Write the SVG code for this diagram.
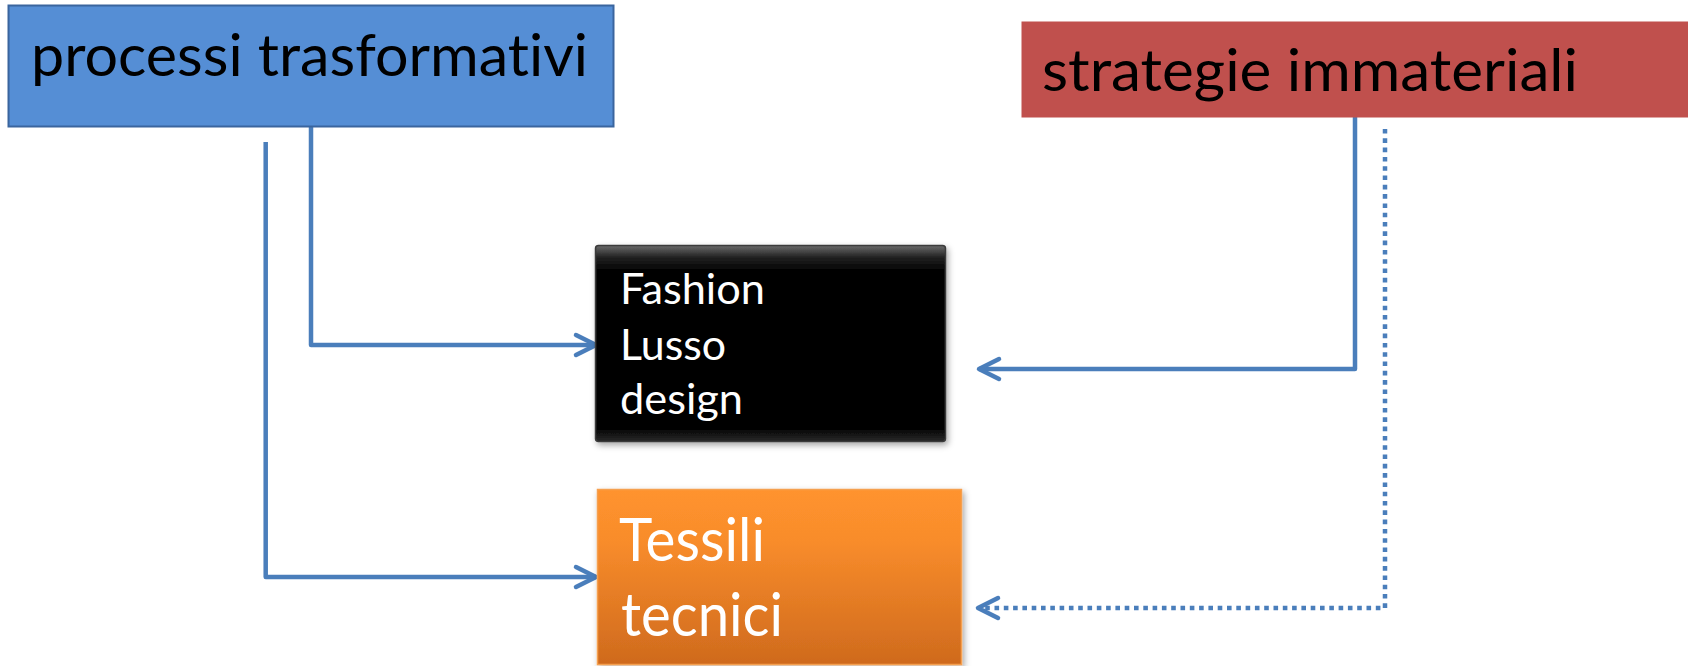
<svg xmlns="http://www.w3.org/2000/svg" width="1688" height="666" viewBox="0 0 1688 666">
<style>
.lbl{font-family:Lato,"Open Sans","Liberation Sans",sans-serif;font-variant-ligatures:none;font-feature-settings:"liga" 0,"clig" 0;}
.conn{fill:none;stroke:#4A7EBB;stroke-width:4.5;stroke-linejoin:round;}
.dot{stroke-dasharray:4.6 4.7;}
.head{fill:none;stroke:#4A7EBB;stroke-width:4.5;stroke-linecap:round;stroke-linejoin:round;}
</style>
<defs>
<marker id="arr" markerUnits="userSpaceOnUse" viewBox="-26 -15 30 30" markerWidth="30" markerHeight="30" refX="0" refY="0" orient="auto">
<path class="head" d="M-20 -10 L0 0 L-20 10"/>
</marker>
<linearGradient id="org" x1="0" y1="0" x2="0" y2="1">
<stop offset="0" stop-color="#FF932E"/>
<stop offset="0.3" stop-color="#F88C2B"/>
<stop offset="1" stop-color="#CF6A1D"/>
</linearGradient>
<linearGradient id="bev" x1="0" y1="0" x2="0" y2="1">
<stop offset="0" stop-color="#6a6a6a"/>
<stop offset="0.06" stop-color="#222"/>
<stop offset="0.12" stop-color="#060606"/>
<stop offset="0.94" stop-color="#060606"/>
<stop offset="1" stop-color="#2a2a2a"/>
</linearGradient>
<filter id="sh" x="-10%" y="-10%" width="125%" height="130%">
<feDropShadow dx="2" dy="3" stdDeviation="3" flood-color="#000" flood-opacity="0.35"/>
</filter>
</defs>
<rect width="1688" height="666" fill="#FFFFFF"/>
<g id="connectors">
<path class="conn" d="M311 127 V345 H596" marker-end="url(#arr)"/>
<path class="conn" d="M265.7 142 V577 H596" marker-end="url(#arr)"/>
<path class="conn" d="M1355 117 V369 H979" marker-end="url(#arr)"/>
<path class="conn dot" d="M1385 129 V608 H984"/>
<path class="head" d="M998 598 L978 608 L998 618"/>
</g>
<g id="node-processi">
<rect x="8.5" y="5.5" width="605" height="121" fill="#558ED5" stroke="#3A659E" stroke-width="2"/>
<text class="lbl" x="31" y="76" font-size="58" fill="#000" textLength="557" lengthAdjust="spacingAndGlyphs">processi trasformativi</text>
</g>
<g id="node-strategie">
<rect x="1021.5" y="21.5" width="667" height="96" fill="#C0504D"/>
<text class="lbl" x="1042" y="91" font-size="58" fill="#000" textLength="536" lengthAdjust="spacingAndGlyphs">strategie immateriali</text>
</g>
<g id="node-fashion">
<rect x="595.5" y="245.5" width="350" height="196" rx="3" fill="url(#bev)" stroke="#3a3a3a" stroke-width="1.5" filter="url(#sh)"/>
<text class="lbl" font-size="42" fill="#FFFFFF">
<tspan x="620" y="304" textLength="145" lengthAdjust="spacingAndGlyphs">Fashion</tspan>
<tspan x="620" y="360" textLength="106" lengthAdjust="spacingAndGlyphs">Lusso</tspan>
<tspan x="620" y="414" textLength="123" lengthAdjust="spacingAndGlyphs">design</tspan>
</text>
</g>
<g id="node-tessili">
<rect x="597.5" y="489.5" width="364" height="175" fill="url(#org)" stroke="#F5A050" stroke-width="1.5" filter="url(#sh)"/>
<text class="lbl" font-size="60" fill="#FFFFFF">
<tspan x="619" y="561" textLength="146" lengthAdjust="spacingAndGlyphs">Tessili</tspan>
<tspan x="621" y="636" textLength="162" lengthAdjust="spacingAndGlyphs">tecnici</tspan>
</text>
</g>
</svg>
